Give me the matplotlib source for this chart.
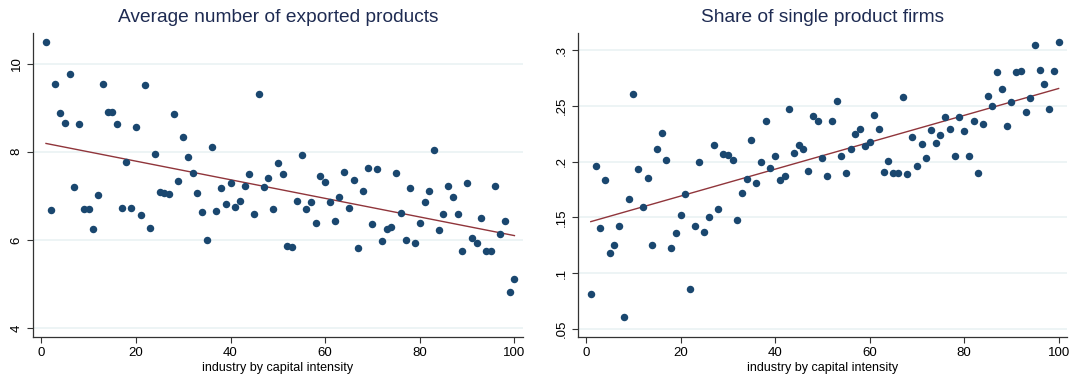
import numpy as np
import matplotlib
matplotlib.use('Agg')
import matplotlib.pyplot as plt

plt.rcParams['font.family'] = ['Liberation Sans', 'DejaVu Sans']

# industries ranked 1..100 by capital intensity
industry = np.arange(1, 101)

avg_products = [
    10.49, 6.69, 9.53, 8.88, 8.66, 9.77, 7.20, 8.63, 6.71, 6.71,
    6.24, 7.01, 9.53, 8.90, 8.90, 8.63, 6.72, 7.76, 6.72, 8.56,
    6.57, 9.52, 6.28, 7.94, 7.09, 7.07, 7.04, 8.85, 7.33, 8.34,
    7.88, 7.52, 7.06, 6.64, 6.00, 8.11, 6.66, 7.17, 6.81, 7.29,
    6.74, 6.88, 7.22, 7.49, 6.58, 9.30, 7.20, 7.40, 6.71, 7.74,
    7.49, 5.87, 5.83, 6.88, 7.92, 6.70, 6.87, 6.39, 7.45, 7.31,
    6.87, 6.42, 6.97, 7.55, 6.72, 7.36, 5.82, 7.12, 7.64, 6.37,
    7.61, 5.98, 6.26, 6.29, 7.52, 6.62, 6.01, 7.18, 5.93, 6.38,
    6.86, 7.12, 8.05, 6.23, 6.60, 7.22, 6.97, 6.60, 5.75, 7.29,
    6.04, 5.93, 6.50, 5.76, 5.74, 7.23, 6.13, 6.43, 4.81, 5.12,
]

single_share = [
    0.0813, 0.1964, 0.1403, 0.1835, 0.1176, 0.1248, 0.1427, 0.0606, 0.1664, 0.2609,
    0.1937, 0.1595, 0.1850, 0.1248, 0.2117, 0.2261, 0.2018, 0.1224, 0.1361, 0.1523,
    0.1712, 0.0855, 0.1427, 0.2000, 0.1373, 0.1505, 0.2150, 0.1577, 0.2069, 0.2057,
    0.2012, 0.1478, 0.1718, 0.1844, 0.2192, 0.1811, 0.2000, 0.2369, 0.1940, 0.2051,
    0.1835, 0.1868, 0.2477, 0.2075, 0.2147, 0.2111, 0.1919, 0.2411, 0.2369, 0.2036,
    0.1871, 0.2369, 0.2543, 0.2054, 0.1895, 0.2117, 0.2252, 0.2297, 0.2144, 0.2177,
    0.2417, 0.2297, 0.1904, 0.2006, 0.1895, 0.1895, 0.2579, 0.1892, 0.2219, 0.1961,
    0.2162, 0.2030, 0.2288, 0.2168, 0.2237, 0.2402, 0.2291, 0.2048, 0.2402, 0.2276,
    0.2054, 0.2366, 0.1895, 0.2336, 0.2594, 0.2498, 0.2803, 0.2650, 0.2318, 0.2540,
    0.2809, 0.2818, 0.2450, 0.2570, 0.3046, 0.2827, 0.2698, 0.2477, 0.2818, 0.3076,
]

xticks = [0, 20, 40, 60, 80, 100]
left_yticks = [4, 6, 8, 10]
right_yticks = [0.05, 0.1, 0.15, 0.2, 0.25, 0.3]
right_ylabels = ['.05', '.1', '.15', '.2', '.25', '.3']

navy = '#1a476f'
title_col = '#1e2b52'
maroon = '#90353b'
grid_col = '#eaf2f3'

fig = plt.figure(figsize=(10.78, 3.8), dpi=100)
ax1 = fig.add_axes([0.0306, 0.113, 0.4545, 0.80])
ax2 = fig.add_axes([0.536, 0.113, 0.4539, 0.80])


def style(ax, title, yticks, ylabels, ylim):
    ax.set_xlim(-1.75, 101.8)
    ax.set_ylim(*ylim)
    ax.set_xticks(xticks)
    ax.set_yticks(yticks)
    ax.set_yticklabels(ylabels, rotation=90, va='center')
    ax.tick_params(labelsize=9.5, length=4, width=0.8, color='#333333')
    ax.yaxis.grid(True, color=grid_col, linewidth=1.2)
    ax.set_axisbelow(True)
    for s in ['top', 'right']:
        ax.spines[s].set_visible(False)
    for s in ['left', 'bottom']:
        ax.spines[s].set_color('#333333')
        ax.spines[s].set_linewidth(0.9)
    ax.set_title(title, color=title_col, fontsize=13.8, pad=8)
    ax.set_xlabel('industry by capital intensity', fontsize=9, labelpad=2)


def scatter_fit(ax, x, y):
    ax.scatter(x, y, s=29, color=navy, linewidths=0, zorder=3)
    b, a = np.polyfit(x, y, 1)
    ax.plot([x[0], x[-1]], [a + b * x[0], a + b * x[-1]], color=maroon, linewidth=1.0, zorder=2)


scatter_fit(ax1, industry, np.array(avg_products))
style(ax1, 'Average number of exported products', left_yticks,
      [str(t) for t in left_yticks], (3.8, 10.69))

scatter_fit(ax2, industry, np.array(single_share))
style(ax2, 'Share of single product firms', right_yticks, right_ylabels, (0.0425, 0.3156))

fig.savefig('out.png', dpi=100, facecolor='white')
